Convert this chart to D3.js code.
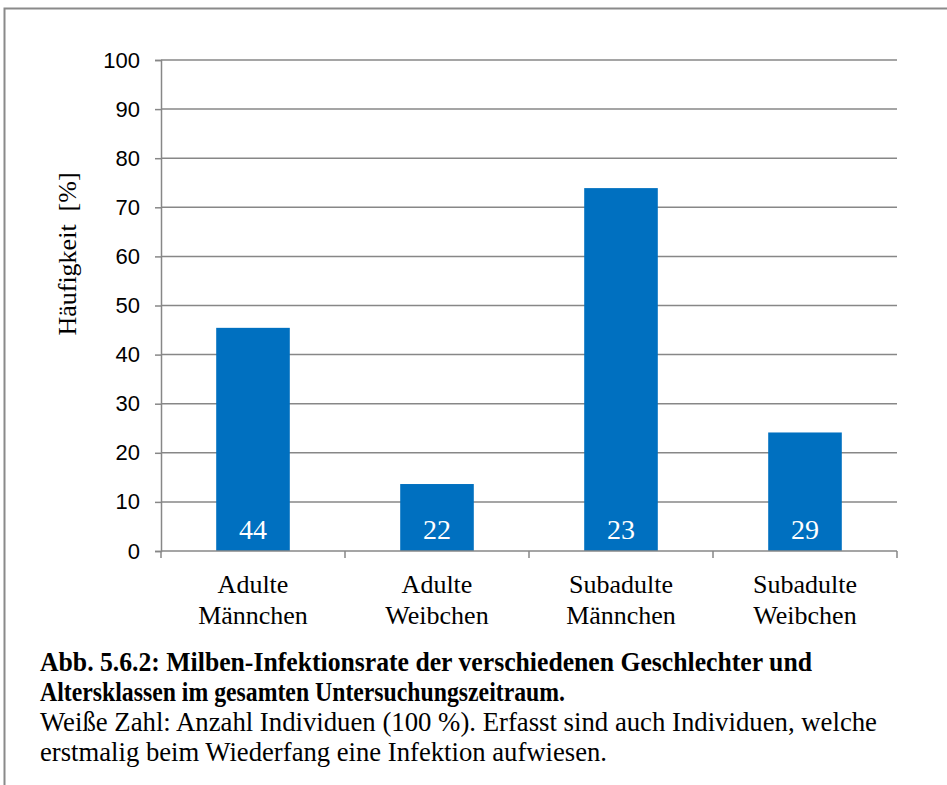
<!DOCTYPE html>
<html><head><meta charset="utf-8">
<script src="https://cdn.jsdelivr.net/npm/d3@7"></script>
<style>body{margin:0;background:#fff}svg{display:block}</style>
</head><body>
<script>
const categories = [["Adulte","Männchen"],["Adulte","Weibchen"],["Subadulte","Männchen"],["Subadulte","Weibchen"]];
const values = [45.45, 13.64, 73.91, 24.14];
const counts = ["44","22","23","29"];
const yTicks = [0,10,20,30,40,50,60,70,80,90,100];
const yLabel = "Häufigkeit  [%]";
const captionBold = ["Abb. 5.6.2: Milben-Infektionsrate der verschiedenen Geschlechter und","Altersklassen im gesamten Untersuchungszeitraum."];
const captionNormal = ["Weiße Zahl: Anzahl Individuen (100 %). Erfasst sind auch Individuen, welche","erstmalig beim Wiederfang eine Infektion aufwiesen."];

const W=947,H=785;
const serif="Liberation Serif";
const sans="Liberation Sans";
const svg=d3.select("body").append("svg").attr("width",W).attr("height",H);
const grey="#878787";
// frame
svg.append("path").attr("d","M4.5,785V8.5H947").attr("fill","none").attr("stroke","#8a8a8a").attr("stroke-width",2);

const x0=161,x1=897,y0=551,y1=60;
const x=d3.scaleBand().domain(d3.range(categories.length)).range([x0,x1]);
const y=d3.scaleLinear().domain([0,100]).range([y0,y1]);

// gridlines
svg.append("g").selectAll("line").data(yTicks.filter(d=>d>0)).join("line")
  .attr("x1",x0).attr("x2",x1).attr("y1",d=>y(d)).attr("y2",d=>y(d))
  .attr("stroke",grey).attr("stroke-width",1.5);

// bars
const bw=x.bandwidth()*0.4;
svg.append("g").selectAll("rect").data(values).join("rect")
  .attr("x",(d,i)=>x(i)+x.bandwidth()/2-bw/2).attr("width",bw)
  .attr("y",d=>y(d)).attr("height",d=>y0-y(d)).attr("fill","#0070C0");

// counts
svg.append("g").selectAll("text").data(counts).join("text")
  .attr("x",(d,i)=>x(i)+x.bandwidth()/2).attr("y",539)
  .attr("text-anchor","middle").attr("fill","#fff")
  .style("font-family",serif).style("font-size","28px")
  .text(d=>d);

// y axis
const ya=svg.append("g").attr("transform",`translate(${x0},0)`)
  .call(d3.axisLeft(y).tickValues(yTicks).tickSize(6).tickPadding(15));
ya.select(".domain").attr("stroke",grey).attr("stroke-width",1.5);
ya.selectAll(".tick line").attr("stroke",grey).attr("stroke-width",1.5);
ya.selectAll(".tick text").attr("fill","#000")
  .style("font-family",sans).style("font-size","22px");

// x axis
const xa=svg.append("g").attr("transform",`translate(0,${y0})`);
xa.append("line").attr("x1",x0).attr("x2",x1).attr("stroke",grey).attr("stroke-width",1.5);
const tickPos=d3.range(categories.length+1).map(i=>x0+i*x.step());
xa.selectAll("line.t").data(tickPos).join("line").attr("class","t")
  .attr("x1",d=>d).attr("x2",d=>d).attr("y1",0).attr("y2",7).attr("stroke",grey).attr("stroke-width",1.5);
const xl=svg.append("g").selectAll("text").data(categories).join("text")
  .attr("text-anchor","middle")
  .style("font-family",serif).style("font-size","26px");
xl.each(function(d,i){
  const t=d3.select(this);
  d.forEach((s,j)=>t.append("tspan").attr("x",x(i)+x.bandwidth()/2).attr("y",593+j*31).text(s));
});

// y label
svg.append("text").attr("transform","translate(76,254) rotate(-90)").attr("text-anchor","middle")
  .style("font-family",serif).style("font-size","26px")
  .style("white-space","pre").text(yLabel);

// caption
const capW=[772,525,837,567];
const capY=[671,701,731,761];
const cap=captionBold.map(t=>({t,b:true})).concat(captionNormal.map(t=>({t,b:false})));
svg.append("g").selectAll("text").data(cap).join("text")
  .attr("x",40).attr("y",(d,i)=>capY[i])
  .attr("textLength",(d,i)=>capW[i]).attr("lengthAdjust","spacingAndGlyphs")
  .style("font-family",serif).style("font-size","28px")
  .style("font-weight",d=>d.b?"bold":"normal")
  .text(d=>d.t);
</script>
</body></html>
